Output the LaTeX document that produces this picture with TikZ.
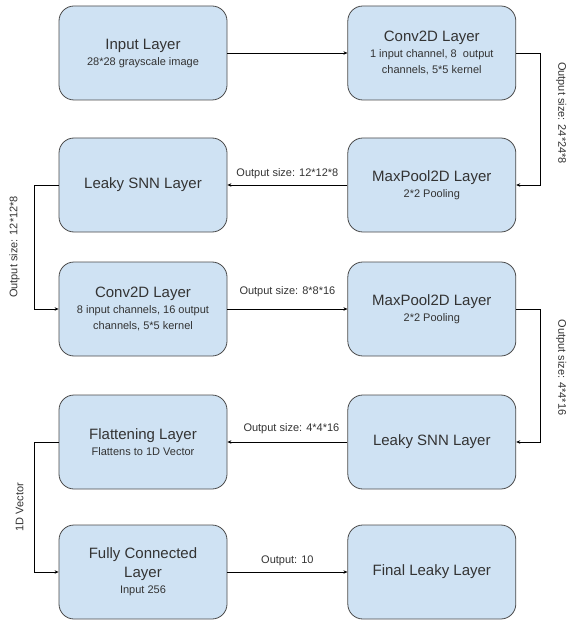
\documentclass[tikz,border=0pt]{standalone}
\usepackage{fontspec}
\setmainfont{Liberation Sans}
\usepackage{tikz}
\usetikzlibrary{
  positioning,
  calc,
  arrows.meta
}
\definecolor{boxFill}{HTML}{CFE2F3}
\definecolor{boxLine}{HTML}{4A4A4A}
\definecolor{txtGray}{HTML}{333333}
\tikzstyle{layer}=[draw=boxLine, fill=boxFill, line width=0.8pt, rounded corners=15pt, minimum width=168pt, minimum height=94pt, align=center, text=txtGray, font=\fontsize{11}{15}\selectfont]
\tikzstyle{conn}=[-{Stealth[length=4pt, width=3.5pt]}, line width=0.8pt]
\tikzstyle{lbl}=[text=txtGray, font=\fontsize{11}{13}\selectfont]
\newcommand{\ttl}[1]{{\fontsize{15}{18}\selectfont #1}}

\begin{document}
\begin{tikzpicture}[x=1pt, y=-1pt]
  \def\xl{143};
  \def\gap{24};

  % 図の大きさ
  \useasboundingbox (0,0) rectangle (568,620);

  % 左の列
  \node[layer] (input) at (\xl,53) {\ttl{Input Layer}\\[1pt]28*28 grayscale image};
  \node[layer] (leakyA) at (\xl,185) {\ttl{Leaky SNN Layer}};
  \node[layer] (convB) at (\xl,309) {\ttl{Conv2D Layer}\\[1pt]8 input channels, 16 output\\[1pt]channels, 5*5 kernel};
  \node[layer] (flat) at (\xl,442) {\ttl{Flattening Layer}\\[1pt]Flattens to 1D Vector};
  \node[layer] (fc) at (\xl,572) {\ttl{Fully Connected}\\[4pt]\ttl{Layer}\\[1pt]Input 256};

  % 右の列
  \node[layer, right=120pt of input] (convA) {\ttl{Conv2D Layer}\\[1pt]1 input channel, 8~ output\\[1pt]channels, 5*5 kernel};
  \node[layer, right=120pt of leakyA] (poolA) {\ttl{MaxPool2D Layer}\\[1pt]2*2 Pooling};
  \node[layer, right=120pt of convB] (poolB) {\ttl{MaxPool2D Layer}\\[1pt]2*2 Pooling};
  \node[layer, right=120pt of flat] (leakyB) {\ttl{Leaky SNN Layer}};
  \node[layer, right=120pt of fc] (final) {\ttl{Final Leaky Layer}};

  % 横の矢印
  \draw[conn] (input) -- (convA);
  \draw[conn] (poolA) -- (leakyA) node[lbl, midway, above=2pt]{Output size: 12*12*8};
  \draw[conn] (convB) -- (poolB) node[lbl, midway, above=8pt]{Output size: 8*8*16};
  \draw[conn] (leakyB) -- (flat) node[lbl, midway, above=4pt, xshift=4pt]{Output size: 4*4*16};
  \draw[conn] (fc) -- (final) node[lbl, midway, above=2pt]{Output: 10};

  % 折れ曲がる矢印
  \draw[conn] (convA.east) -- ++(\gap,0) coordinate (kA) |- (poolA.east);
  \draw[conn] (leakyA.west) -- ++(-\gap,0) coordinate (kB) |- (convB.west);
  \draw[conn] (poolB.east) -- ++(\gap,0) coordinate (kC) |- (leakyB.east);
  \draw[conn] (flat.west) -- ++(-\gap,0) coordinate (kD) |- (fc.west);

  % 縦のラベル
  \node[lbl, rotate=-90] (sizeA) at ($(kA)!0.5!(kA |- poolA.east)+(21,-6)$) {Output size: 24*24*8};
  \node[lbl, rotate=90] (sizeB) at ($(kB)!0.5!(kB |- convB.west)+(-20,0)$) {Output size: 12*12*8};
  \node[lbl, rotate=-90] (sizeC) at ($(kC)!0.5!(kC |- leakyB.east)+(21,-8)$) {Output size: 4*4*16};
  \node[lbl, rotate=90] (vec) at ($(kD)!0.5!(kD |- fc.west)+(-15,0)$) {1D Vector};
\end{tikzpicture}
\end{document}
